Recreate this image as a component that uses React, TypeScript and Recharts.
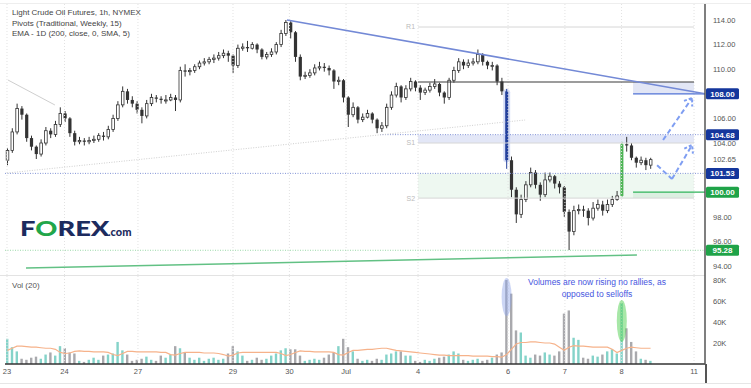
import React from 'react';
import { ComposedChart, Bar, Line, XAxis, YAxis, ReferenceLine, ReferenceArea, ReferenceDot } from 'recharts';

// ---- data (2-hour candles) ----
const firstOpen = 102.6;
const closes = [
  103.4,104.9,106.8,106.3,104.4,103.7,103.1,104.0,105.0,104.7,
  105.5,106.4,106.0,104.8,104.1,104.2,104.1,104.2,104.3,104.6,
  104.5,105.1,106.0,107.1,108.2,107.5,107.2,106.7,106.2,107.2,
  107.7,107.6,107.5,107.5,107.7,107.5,109.9,109.8,109.9,110.2,
  110.5,110.6,110.8,110.9,111.1,111.3,111.1,110.3,111.7,111.8,
  111.7,112.0,111.6,111.0,111.2,111.4,112.0,112.9,113.8,113.0,
  111.0,109.4,109.5,109.7,110.1,110.2,110.1,109.9,109.0,109.1,
  107.7,106.3,106.9,105.9,106.1,106.4,105.9,105.2,105.4,106.9,
  107.9,108.6,107.7,108.4,109.0,108.5,108.1,108.3,108.6,108.8,
  108.1,107.7,109.1,109.9,110.6,110.3,110.5,110.6,111.2,110.6,
  110.3,110.3,109.0,108.2,102.6,100.2,98.2,99.4,100.6,101.6,
  100.6,99.8,101.0,101.3,100.7,100.4,98.4,96.8,98.5,98.6,
  98.5,97.9,98.7,99.0,98.5,99.0,99.4,99.7,103.9,103.8,
  102.8,102.4,102.6,102.2,102.65,
];
const highs = [
  103.6,105.2,107.2,107.0,106.4,104.6,103.8,104.3,105.3,105.2,
  105.8,106.9,106.6,106.1,105.0,104.5,104.4,104.5,104.6,104.8,
  104.9,105.4,106.3,107.4,108.6,108.4,107.8,107.4,106.9,107.5,
  108.0,107.9,107.8,107.9,108.0,107.9,110.2,110.4,110.1,110.4,
  110.7,110.9,111.0,111.2,111.4,111.6,111.5,111.2,112.0,112.1,
  112.3,112.2,112.1,111.7,111.4,111.7,112.2,113.2,114.0,113.9,
  113.1,111.2,109.8,110.0,110.4,110.6,110.5,110.3,110.0,109.4,
  109.2,107.8,107.3,107.0,106.4,106.7,106.5,106.0,105.7,107.2,
  108.2,108.9,108.7,108.7,109.3,109.1,108.7,108.5,108.9,109.2,
  108.9,108.2,109.3,110.2,110.9,110.8,110.8,110.9,111.6,111.3,
  110.7,110.6,110.4,109.3,108.4,102.9,100.4,99.8,100.9,102.0,
  101.8,100.8,101.6,101.6,101.4,100.9,100.5,98.6,98.9,99.0,
  98.9,98.7,99.2,99.4,99.3,99.4,99.7,100.1,104.1,104.5,
  104.0,102.9,102.9,102.8,102.8,
];
const lows = [
  102.2,103.2,104.7,105.9,104.1,103.4,102.7,102.9,103.8,104.4,
  104.5,105.3,105.7,104.5,103.8,103.9,103.8,103.9,104.0,104.1,
  104.2,104.3,104.9,105.8,106.9,107.2,106.9,106.4,105.6,106.0,
  107.0,107.3,107.2,107.2,107.4,106.6,107.3,109.4,109.5,109.7,
  110.0,110.3,110.4,110.5,110.7,110.9,110.6,109.7,110.1,111.5,
  111.4,111.6,111.3,110.8,110.8,111.0,111.2,111.8,112.7,112.5,
  110.6,109.1,109.2,109.3,109.5,109.9,109.8,109.5,108.4,108.7,
  107.3,105.3,106.1,105.6,105.7,106.0,105.6,104.8,104.9,105.2,
  106.7,107.7,107.3,107.5,108.2,108.2,107.5,107.9,108.1,108.4,
  107.8,107.2,107.5,108.9,109.7,110.0,110.1,110.3,110.4,110.3,
  110.0,109.9,108.7,107.9,101.9,99.6,97.5,97.9,99.2,100.4,
  100.3,99.3,99.6,100.8,100.3,99.9,98.0,95.3,96.5,98.2,
  98.0,97.3,97.7,98.5,98.1,98.3,98.8,99.3,99.6,103.3,
  102.6,102.0,102.2,101.8,101.9,
];
const volumesK = [
  24,16,12,5,4,6,7,5,9,11,
  8,17,15,11,10,3,2,4,6,4,
  8,9,10,21,13,9,3,4,5,7,
  4,3,8,6,9,17,15,11,6,4,
  6,3,5,6,4,5,10,17,12,8,
  3,4,6,4,5,8,10,13,15,14,
  14,8,3,4,5,4,6,9,11,17,
  24,16,12,5,3,4,3,5,4,9,
  10,12,12,8,8,3,2,4,3,5,
  6,7,9,12,10,4,3,4,5,3,
  4,6,9,11,80,67,32,30,8,6,
  9,8,11,9,8,12,48,51,25,23,
  6,5,8,7,9,12,14,10,58,34,
  21,12,5,4,3,
];
const volumeMA = [
  13,15,17,17,16.5,16,16,15.5,15,15,
  14,11,10,10.5,12,12.5,12,12,11.5,11.5,
  11.5,11,9,8,10,12,12,11.5,11.5,11.5,
  11.5,11.5,11,11,9,8.5,10,11,11,11,
  11,10.5,10.5,10.5,10,9,7.5,8.5,10.5,11,
  11,11,11,11,11,11,11,10,8,9,
  11,12.5,12,12,11.5,11.5,11.5,11.5,11,9,
  8.5,11,13,13,13.5,14,14,14.5,15,15,
  14,13,12.5,12,11.5,11,10.5,10,9.5,9,
  8.5,8.5,8,8,8,8,8,7.5,7.5,7.5,
  7.5,7,7,6.5,9,14,19,20.5,20.5,21,
  21,20.5,20,20,19,16,13,16,17.5,17,
  17,16.5,16,16,16,16,14,11,13,15,
  16,15.5,15,15,15,
];
const dayTickHours = [0.83, 24.8, 55.4, 95, 118.5, 142.1, 172.1, 209.6, 233.3, 256.9, 287.1];
const dayTickLabels = ['23', '24', '27', '29', '30', 'Jul', '4', '6', '7', '8', '11'];
const priceTicks = [94, 96, 98, 102.65, 104, 106, 110, 112, 114];
const volumeTicks = [20, 40, 60, 80];

// levels drawn on the chart
const trendHigh = { h: 117.5, p: 114.0 };
const trendEnd = { h: 291.67, p: 108.0 };
const pivotR1 = 113.43;
const pivotP = 108.96;
const pivotS1 = 104.0;
const pivotS2 = 99.52;
const levelUpper = 104.68;
const levelMid = 101.53;
const levelLow = 95.28;
const target = 108.0;
const support = 100.0;
const weekStart = 172.1;
const weekEnd = 287.1;
const zoneStart = 261.7;
const domainEnd = 291.67;
const blueCandle = 104;
const greenCandle = 128;
const arrowUp = [{ h: 274.2, p: 104.24 }, { h: 286.3, p: 107.66 }];
const arrowDip = [{ h: 271.7, p: 102.2 }, { h: 277.9, p: 101.07 }, { h: 286.3, p: 103.84 }];

const BLUE_LABELS: number[] = [108, 104.68, 101.53];
const GREEN_LABELS: number[] = [100, 95.28];

const candles = closes.map((c, i) => {
  const open = i === 0 ? firstOpen : closes[i - 1];
  return { i, h: 2 * i + 1, open, close: c, high: highs[i], low: lows[i], vol: volumesK[i], volMA: volumeMA[i], up: c >= open };
});

const FONT = '"Liberation Sans", Arial, sans-serif';

function CandleShape(props: any) {
  const { x, y, width, height, payload } = props;
  if (!payload || x == null) return null;
  const { open, close, high, low, i } = payload;
  const top = Math.min(y, y + height);
  const hh = Math.abs(height);
  const k = high > low ? hh / (high - low) : 0;
  const py = (v: number) => top + (high - v) * k;
  const cx = x + width / 2;
  const yo = py(open);
  const yc = py(close);
  const bTop = Math.min(yo, yc);
  const bH = Math.max(1, Math.abs(yc - yo));
  const up = close >= open;
  if (i === blueCandle) {
    return (
      <g>
        <rect x={cx - 3.5} y={bTop - 2} width={7} height={bH + 4} rx={3} fill="#b8c4f0" opacity={0.6} />
        <line x1={cx} x2={cx} y1={top} y2={top + hh} stroke="#24419c" strokeWidth={1} />
        <rect x={cx - 1.5} y={bTop} width={3} height={bH} fill="#24419c" />
      </g>
    );
  }
  if (i === greenCandle) {
    return (
      <g>
        <line x1={cx} x2={cx} y1={top} y2={top + hh} stroke="#3aa84a" strokeWidth={1} />
        <rect x={cx - 1.5} y={bTop} width={3} height={bH} fill="#4cb454" />
      </g>
    );
  }
  return (
    <g>
      <line x1={cx} x2={cx} y1={top} y2={top + hh} stroke="#333" strokeWidth={1} />
      {up ? (
        <rect x={cx - 1.3} y={bTop} width={2.6} height={bH} fill="#fff" stroke="#333" strokeWidth={0.8} />
      ) : (
        <rect x={cx - 1.6} y={bTop} width={3.2} height={bH} fill="#333" />
      )}
    </g>
  );
}

function VolumeShape(props: any) {
  const { x, y, width, height, payload } = props;
  if (!payload || x == null) return null;
  return <rect x={x} y={y} width={width} height={Math.max(0, height)} fill={payload.up ? '#84d3c9' : '#a9a9ad'} />;
}

function PriceTick(props: any) {
  const { x, y, payload } = props;
  const v = payload.value as number;
  const label = v.toFixed(2);
  const isBlue = BLUE_LABELS.includes(v);
  const isGreen = GREEN_LABELS.includes(v);
  if (isBlue || isGreen) {
    return (
      <g>
        <rect x={x + 1} y={y - 5.5} width={33} height={11} rx={1.5} fill={isBlue ? '#14369c' : '#1fa348'} />
        <text x={x + 17.5} y={y + 3} textAnchor="middle" fill="#fff" fontSize={8} fontWeight={700} fontFamily={FONT}>{label}</text>
      </g>
    );
  }
  return <text x={x + 8} y={y + 2.8} fill="#555" fontSize={7.5} fontFamily={FONT}>{label}</text>;
}

function VolTick(props: any) {
  const { x, y, payload } = props;
  return <text x={x + 8} y={y + 2.8} fill="#555" fontSize={7.5} fontFamily={FONT}>{`${payload.value}K`}</text>;
}

const chevron = (angle: number, color: string) => (p: any) => (
  <path
    d="M -7 -5 L 0 0 L -7 5"
    transform={`translate(${p.cx},${p.cy}) rotate(${angle})`}
    fill="none"
    stroke={color}
    strokeWidth={2}
    strokeDasharray="3 2"
  />
);

const ellipse = (rx: number, ry: number, color: string, op: number) => (p: any) => (
  <ellipse cx={p.cx} cy={p.cy} rx={rx} ry={ry} fill={color} opacity={op} />
);

export default function App() {
  const arrowColor = '#7f9ef2';
  return (
    <div style={{ position: 'absolute', left: 0, top: 0, width: 751, height: 388, background: '#fff', overflow: 'hidden', fontFamily: FONT }}>
      <div style={{ position: 'absolute', left: 0, top: 3, width: 751, height: 1, background: '#eee' }} />
      <div style={{ position: 'absolute', left: 0, top: 0 }}>
        <ComposedChart width={751} height={275} data={candles} margin={{ top: 4, right: 0, bottom: 0, left: 5 }}>
          <XAxis type="number" dataKey="h" domain={[0, domainEnd]} allowDataOverflow hide height={0} />
          <YAxis
            type="number"
            orientation="right"
            width={46}
            domain={[93.27, 115.3]}
            allowDataOverflow
            ticks={[...priceTicks, ...GREEN_LABELS, ...BLUE_LABELS]}
            interval={0}
            tickLine={false}
            tickSize={0}
            tickMargin={0}
            axisLine={{ stroke: '#555', strokeWidth: 1.5 }}
            tick={<PriceTick />}
          />
          {dayTickHours.map((d) => (
            <ReferenceLine key={`g${d}`} x={d} stroke="#e2e2e2" strokeDasharray="1 2" />
          ))}
          <ReferenceArea x1={weekStart} x2={weekEnd} y1={pivotS1} y2={levelUpper} fill="#e3e7f7" fillOpacity={1} stroke="none" />
          <ReferenceArea x1={weekStart} x2={weekEnd} y1={pivotS2} y2={levelMid} fill="#eef8f1" fillOpacity={1} stroke="none" />
          <ReferenceArea x1={zoneStart} x2={weekEnd} y1={target} y2={pivotP} fill="#e2e6f5" fillOpacity={1} stroke="none" />
          <ReferenceArea x1={zoneStart} x2={weekEnd} y1={pivotS2} y2={support} fill="#dcefe1" fillOpacity={1} stroke="none" />
          <ReferenceLine segment={[{ x: weekStart, y: pivotR1 }, { x: weekEnd, y: pivotR1 }]} stroke="#d6d6d6" strokeWidth={1}
            label={{ value: 'R1', position: 'left', fill: '#bbb', fontSize: 7, offset: 3 }} />
          <ReferenceLine segment={[{ x: weekStart, y: pivotS1 }, { x: weekEnd, y: pivotS1 }]} stroke="#d6d6d6" strokeWidth={1}
            label={{ value: 'S1', position: 'left', fill: '#bbb', fontSize: 7, offset: 3 }} />
          <ReferenceLine segment={[{ x: weekStart, y: pivotS2 }, { x: weekEnd, y: pivotS2 }]} stroke="#d6d6d6" strokeWidth={1}
            label={{ value: 'S2', position: 'left', fill: '#bbb', fontSize: 7, offset: 3 }} />
          <ReferenceLine segment={[{ x: weekStart, y: pivotP }, { x: weekEnd, y: pivotP }]} stroke="#3a3a3a" strokeWidth={1.2} />
          <ReferenceLine segment={[{ x: 0, y: levelMid }, { x: domainEnd, y: levelMid }]} stroke="#8394d6" strokeDasharray="1 1.5" />
          <ReferenceLine segment={[{ x: 156.25, y: levelUpper }, { x: domainEnd, y: levelUpper }]} stroke="#8394d6" strokeDasharray="1 1.5" />
          <ReferenceLine segment={[{ x: 0, y: levelLow }, { x: domainEnd, y: levelLow }]} stroke="#9ad9a8" strokeDasharray="1 1.5" />
          <ReferenceLine segment={[{ x: 1.25, y: 109.12 }, { x: 20.8, y: 107.09 }]} stroke="#cfcfcf" strokeWidth={1} />
          <ReferenceLine segment={[{ x: 0.83, y: 101.56 }, { x: 216.7, y: 105.87 }]} stroke="#cfcfcf" strokeDasharray="1 1.5" />
          <ReferenceLine segment={[{ x: 8.75, y: 93.84 }, { x: 263.3, y: 94.89 }]} stroke="#62c184" strokeWidth={1.5} />
          <ReferenceLine segment={[{ x: zoneStart, y: target }, { x: domainEnd, y: target }]} stroke="#4f72d6" strokeWidth={1.3} />
          <ReferenceLine segment={[{ x: zoneStart, y: support }, { x: domainEnd, y: support }]} stroke="#2fb35a" strokeWidth={1.3} />
          <ReferenceLine segment={[{ x: trendHigh.h, y: trendHigh.p }, { x: trendEnd.h, y: trendEnd.p }]} stroke="#7389d6" strokeWidth={1.6} />
          <Bar dataKey={(d: any) => [d.low, d.high]} barSize={3} shape={<CandleShape />} isAnimationActive={false} />
          <ReferenceLine segment={[{ x: arrowUp[0].h, y: arrowUp[0].p }, { x: arrowUp[1].h, y: arrowUp[1].p }]} stroke={arrowColor} strokeWidth={2} strokeDasharray="5 3" />
          <ReferenceLine segment={[{ x: arrowDip[0].h, y: arrowDip[0].p }, { x: arrowDip[1].h, y: arrowDip[1].p }]} stroke={arrowColor} strokeWidth={2} strokeDasharray="5 3" />
          <ReferenceLine segment={[{ x: arrowDip[1].h, y: arrowDip[1].p }, { x: arrowDip[2].h, y: arrowDip[2].p }]} stroke={arrowColor} strokeWidth={2} strokeDasharray="5 3" />
          <ReferenceDot x={arrowUp[1].h} y={arrowUp[1].p} r={1} shape={chevron(-55, arrowColor)} />
          <ReferenceDot x={arrowDip[2].h} y={arrowDip[2].p} r={1} shape={chevron(-60, arrowColor)} />
        </ComposedChart>
      </div>
      <div style={{ position: 'absolute', left: 0, top: 275, width: 705, height: 1, background: '#e3e3e3' }} />
      <div style={{ position: 'absolute', left: 0, top: 275 }}>
        <ComposedChart width={751} height={113} data={candles} margin={{ top: 0, right: 0, bottom: 0, left: 5 }}>
          <XAxis
            type="number"
            dataKey="h"
            domain={[0, domainEnd]}
            allowDataOverflow
            ticks={dayTickHours}
            interval={0}
            tickFormatter={(v: number) => dayTickLabels[dayTickHours.indexOf(v)] ?? ''}
            tickLine={false}
            tickSize={0}
            tickMargin={5}
            height={24}
            axisLine={{ stroke: '#333', strokeWidth: 1.3 }}
            tick={{ fontSize: 7.5, fill: '#555', fontFamily: FONT }}
          />
          <YAxis
            type="number"
            orientation="right"
            width={46}
            domain={[0, 84.76]}
            allowDataOverflow
            ticks={volumeTicks}
            interval={0}
            tickLine={false}
            tickSize={0}
            tickMargin={0}
            axisLine={{ stroke: '#555', strokeWidth: 1.5 }}
            tick={<VolTick />}
          />
          {dayTickHours.map((d) => (
            <ReferenceLine key={`v${d}`} x={d} stroke="#e2e2e2" strokeDasharray="1 2" />
          ))}
          <Bar dataKey="vol" barSize={2.4} shape={<VolumeShape />} isAnimationActive={false} />
          <Line dataKey="volMA" type="linear" stroke="#f6b28a" strokeWidth={1.2} dot={false} isAnimationActive={false} />
          <ReferenceDot x={candles[blueCandle].h} y={63.8} r={1} shape={ellipse(5, 19, '#8fa3e8', 0.45)} />
          <ReferenceDot x={candles[greenCandle].h} y={41} r={1} shape={ellipse(5, 21, '#4fd04f', 0.5)} />
        </ComposedChart>
      </div>
      <div style={{ position: 'absolute', left: 705, top: 364, width: 1.5, height: 19, background: '#555' }} />
      <div style={{ position: 'absolute', left: 0, top: 383, width: 751, height: 1, background: '#e6e6e6' }} />

      <div style={{ position: 'absolute', left: 12, top: 8, fontSize: 8, lineHeight: '10.5px', color: '#444', whiteSpace: 'nowrap' }}>
        <div>Light Crude Oil Futures, 1h, NYMEX</div>
        <div>Pivots (Traditional, Weekly, 15)</div>
        <div>EMA - 1D (200, close, 0, SMA, 5)</div>
      </div>
      <div style={{ position: 'absolute', left: 20, top: 215, whiteSpace: 'nowrap', fontFamily: 'Lato, "Liberation Sans", sans-serif', fontWeight: 900, color: '#1c2b5e' }}>
        <span style={{ display: 'inline-block', transform: 'scale(1.3, 1)', transformOrigin: 'left center', width: 88 }}>
          <span style={{ fontSize: 21 }}>F</span>
          <span style={{ fontSize: 21, color: '#22a64a' }}>O</span>
          <span style={{ fontSize: 21 }}>REX</span>
        </span>
        <span style={{ fontSize: 11 }}>.com</span>
      </div>
      <div style={{ position: 'absolute', left: 12, top: 281, fontSize: 8, color: '#555' }}>Vol (20)</div>
      <div style={{ position: 'absolute', left: 500, top: 277, width: 194, textAlign: 'center', fontSize: 8.5, lineHeight: '11.5px', color: '#4656e0' }}>
        <div>Volumes are now rising no rallies, as</div>
        <div>opposed to selloffs</div>
      </div>
    </div>
  );
}
